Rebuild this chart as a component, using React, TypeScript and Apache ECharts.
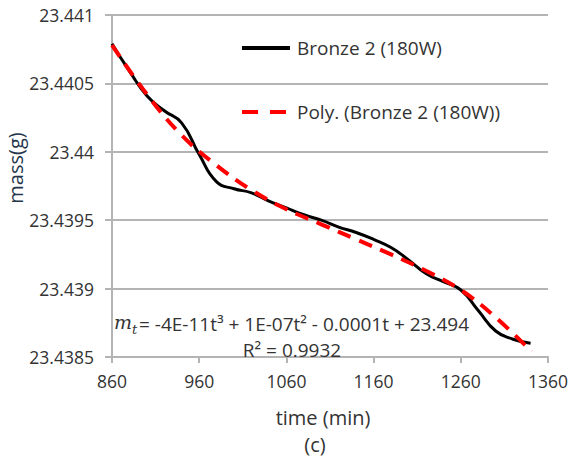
import React, { useEffect, useRef } from "react";
import * as echarts from "echarts";

// Measured mass of the Bronze 2 sample (180 W) every 20 minutes
const timeMin = [
  860, 880, 900, 920, 940, 960, 980, 1000, 1020, 1040, 1060, 1080, 1100,
  1120, 1140, 1160, 1180, 1200, 1220, 1240, 1260, 1280, 1300, 1320, 1340,
];
const massG = [
  23.44079, 23.44059, 23.44041, 23.4403, 23.44021, 23.43998, 23.43978,
  23.43973, 23.4397, 23.43964, 23.43959, 23.43954, 23.4395, 23.43945,
  23.43941, 23.43936, 23.4393, 23.43921, 23.43911, 23.43905, 23.43899,
  23.43884, 23.43869, 23.43863, 23.4386,
];

// Third-order polynomial trend line, sampled every 40 minutes
const trendTime = [860, 900, 940, 980, 1020, 1060, 1100, 1140, 1180, 1220, 1260, 1300, 1341];
const trendMass = [
  23.44078, 23.44042, 23.44012, 23.4399, 23.43972, 23.43958, 23.43947,
  23.43936, 23.43925, 23.43913, 23.43899, 23.43879, 23.43854,
];

const xTicks = [860, 960, 1060, 1160, 1260, 1360];
const yTicks = [23.4385, 23.439, 23.4395, 23.44, 23.4405, 23.441];

const seriesName = "Bronze 2 (180W)";
const trendName = "Poly. (Bronze 2 (180W))";
const xTitle = "time (min)";
const yTitle = "mass(g)";
const panelTag = "(c)";
const equationRest = "= -4E-11t³ + 1E-07t² - 0.0001t + 23.494";
const rSquared = "R² = 0.9932";

const FONT = "Open Sans";
const TEXT = "#333333";
const GRID = "#b4b4b4";

export default function App() {
  const ref = useRef<HTMLDivElement>(null);

  useEffect(() => {
    document.body.style.margin = "0";
    if (!ref.current) return;
    const chart = echarts.init(ref.current, null, { renderer: "svg" });

    const mass = timeMin.map((t, i) => [t, massG[i]]);
    const trend = trendTime.map((t, i) => [t, trendMass[i]]);

    const titleStyle = {
      fontFamily: FONT,
      fontSize: 20,
      fill: TEXT,
      align: "center",
      verticalAlign: "middle",
    };
    const eqStyle = { fontFamily: FONT, fontSize: 19, fill: TEXT, verticalAlign: "middle" };
    const italicSerif = { fontFamily: "DejaVu Serif", fontStyle: "italic", fill: TEXT, align: "left", verticalAlign: "middle" };

    chart.setOption({
      animation: false,
      backgroundColor: "#ffffff",
      grid: { left: 112, right: 23, top: 15, bottom: 99, outerBoundsMode: "none" },
      legend: {
        orient: "vertical",
        left: 240,
        top: 38,
        padding: 0,
        itemWidth: 48,
        itemHeight: 14,
        itemGap: 44,
        textStyle: { fontFamily: FONT, fontSize: 19, lineHeight: 20, color: TEXT, padding: [0, 0, 0, 2] },
        data: [
          { name: seriesName, itemStyle: { opacity: 0 }, lineStyle: { width: 4, color: "#000000" } },
          { name: trendName, itemStyle: { opacity: 0 }, lineStyle: { width: 4, color: "#ff0000", type: [16, 12] } },
        ],
      },
      xAxis: {
        type: "value",
        min: 860,
        max: 1360,
        axisLine: { show: true, lineStyle: { color: GRID, width: 2 } },
        axisTick: { show: true, length: 6, customValues: xTicks, lineStyle: { color: GRID, width: 2 } },
        axisLabel: {
          customValues: xTicks,
          margin: 15,
          fontFamily: FONT,
          fontSize: 17.5,
          color: TEXT,
          formatter: (v: number) => String(v),
        },
        splitLine: { show: false },
      },
      yAxis: {
        type: "value",
        min: 23.4385,
        max: 23.441,
        axisLine: { show: true, lineStyle: { color: GRID, width: 2 } },
        axisTick: { show: true, length: 7, customValues: yTicks, lineStyle: { color: GRID, width: 2 } },
        axisLabel: {
          customValues: yTicks,
          margin: 18,
          fontFamily: FONT,
          fontSize: 17.5,
          color: TEXT,
          formatter: (v: number) => String(parseFloat(v.toFixed(4))),
        },
        splitLine: { show: true, lineStyle: { color: GRID, width: 2 } },
      },
      series: [
        {
          name: seriesName,
          type: "line",
          data: mass,
          smooth: 0.5,
          symbol: "none",
          lineStyle: { color: "#000000", width: 3 },
          itemStyle: { color: "#000000" },
          z: 2,
        },
        {
          name: trendName,
          type: "line",
          data: trend,
          smooth: 0.4,
          symbol: "none",
          lineStyle: { color: "#ff0000", width: 4, type: [14, 9] },
          itemStyle: { color: "#ff0000" },
          z: 3,
        },
      ],
      graphic: [
        {
          type: "text",
          x: 15,
          y: 168,
          rotation: Math.PI / 2,
          style: { ...titleStyle, text: yTitle, fill: "#24364a" },
        },
        { type: "text", x: 323, y: 417, style: { ...titleStyle, text: xTitle } },
        { type: "text", x: 315, y: 444, style: { ...titleStyle, text: panelTag } },
        { type: "text", x: 114, y: 322, z: 10, style: { ...italicSerif, text: "m", fontSize: 19 } },
        { type: "text", x: 132, y: 329, z: 10, style: { ...italicSerif, text: "t", fontSize: 13 } },
        { type: "text", x: 139, y: 324, z: 10, style: { ...eqStyle, text: equationRest, align: "left" } },
        { type: "text", x: 292, y: 350, z: 10, style: { ...eqStyle, text: rSquared, align: "center" } },
      ],
    });

    return () => chart.dispose();
  }, []);

  return <div ref={ref} style={{ width: 571, height: 456 }} />;
}
